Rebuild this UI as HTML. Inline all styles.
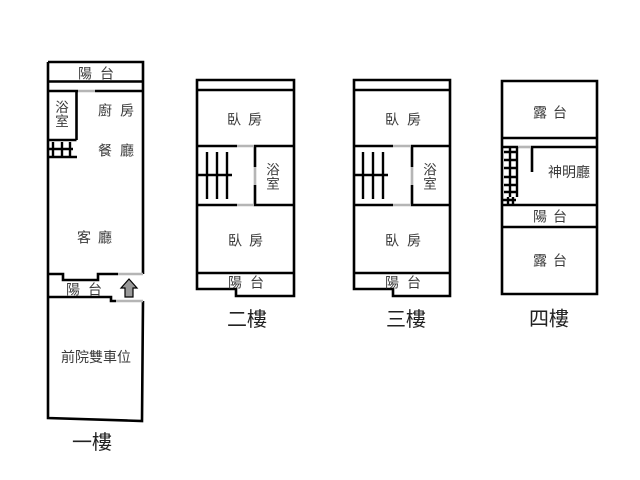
<!DOCTYPE html>
<html><head><meta charset="utf-8"><style>
html,body{margin:0;padding:0;background:#fff;width:640px;height:480px;overflow:hidden}
svg{display:block;filter:blur(.3px)}
text{font-family:"Liberation Sans","Noto Sans CJK TC",sans-serif;fill:#3a3a3a;text-anchor:middle;dominant-baseline:central;font-size:14px;transform:translateY(1.500px)}
text.v{font-size:13.500px}
.t{font-size:20px;fill:#222}
.k{stroke:#000;stroke-width:2.600;fill:none}
.s{stroke:#000;stroke-width:2.400;fill:none}
.g{stroke:#b5b5b5;stroke-width:2.600;fill:none}
</style></head><body>
<svg width="640" height="480" viewBox="0 0 640 480">
<!-- Floor 1 -->
<path class="k" d="M48 62H143V274M143 301L142 421L48 418V62M48 81.500H143M48 91H78M95 91H143M76.500 91V140M48 140H76.500M48 157H77"/>
<path class="g" d="M78 91H95M118 274H143M116 301H143"/>
<path class="s" d="M48 149H73M53 142V156M62 142V156M70 142V156"/>
<path class="k" d="M48 274H63V280H98V274H118M48 297H111V301H116"/>
<path d="M129 279L137 288H133V297H125V288H121Z" fill="#999" stroke="#000" stroke-width="1.200"/>
<text x="85" y="72">陽</text><text x="107" y="72">台</text>
<text class="v" x="62" y="106">浴</text><text class="v" x="62" y="120">室</text>
<text x="105" y="109">廚</text><text x="127" y="109">房</text>
<text x="105" y="149">餐</text><text x="127" y="149">廳</text>
<text x="84" y="236">客</text><text x="105" y="236">廳</text>
<text x="73" y="288">陽</text><text x="95" y="288">台</text>
<text x="96" y="355.500">前院雙車位</text>
<text class="t" x="92" y="441.500">一樓</text>
<!-- Floor 2 -->
<path class="k" d="M197 80H294V296H236V289H197ZM197 90H294M197 146H237M254 146H294M255 146V167M255 185V205H294M197 205H237M197 273H294"/>
<path class="g" d="M237 146H254M255 167V185M237 205H254"/>
<path class="s" d="M207 152V199M217 152V199M227 152V199M197 175H232"/>
<text x="234" y="118">臥</text><text x="255" y="118">房</text>
<text class="v" x="273" y="168.500">浴</text><text class="v" x="273" y="182.500">室</text>
<text x="235" y="239">臥</text><text x="256" y="239">房</text>
<text x="235" y="281">陽</text><text x="257" y="281">台</text>
<text class="t" x="247" y="318.500">二樓</text>
<!-- Floor 3 -->
<path class="k" d="M354 80H450V296H393V289H354ZM354 90H450M354 146H393M411 146H450M412 146V167M412 185V205H450M354 205H393M354 273H450"/>
<path class="g" d="M393 146H411M412 167V185M393 205H411"/>
<path class="s" d="M363 152V199M373 152V199M383 152V199M354 175H388"/>
<text x="392" y="118">臥</text><text x="414" y="118">房</text>
<text class="v" x="430" y="168.500">浴</text><text class="v" x="430" y="182.500">室</text>
<text x="392" y="239">臥</text><text x="414" y="239">房</text>
<text x="392" y="281">陽</text><text x="414" y="281">台</text>
<text class="t" x="406" y="318.500">三樓</text>
<!-- Floor 4 -->
<path class="k" d="M502 81H597V294H502ZM502 138H597M502 147H518M531 147H597M532 147V172M502 205H597M502 227H597"/>
<path class="g" d="M518 147H531"/>
<path class="s" d="M510 147V197M517 147V197M504 152H518M504 160H518M504 168H518M504 177H518M504 185H518M504 192H518M503 200H516M508 197V205M513 197V205"/>
<text x="540" y="111">露</text><text x="560" y="111">台</text>
<text x="569" y="170.500">神明廳</text>
<text x="540" y="215">陽</text><text x="560" y="215">台</text>
<text x="540" y="259">露</text><text x="560" y="259">台</text>
<text class="t" x="549" y="318">四樓</text>
</svg>
</body></html>
